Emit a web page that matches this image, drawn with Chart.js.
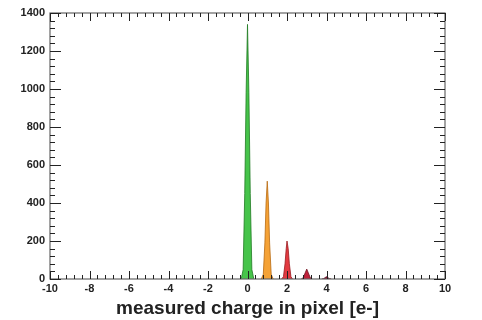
<!DOCTYPE html>
<html>
<head>
<meta charset="utf-8">
<script src="https://cdn.jsdelivr.net/npm/chart.js@4.4.1/dist/chart.umd.min.js"></script>
<style>
  html, body { margin: 0; padding: 0; background: #fff; }
  #wrap { width: 482px; height: 320px; }
</style>
</head>
<body>
<div id="wrap"><canvas id="c"></canvas></div>
<script>
// peak shapes (x in e-, y = entries)
const peak0X = [-0.32, -0.22, -0.14, -0.07, 0, 0.07, 0.14, 0.22, 0.32];
const peak0Y = [0, 50, 450, 980, 1340, 980, 450, 50, 0];
const peak1X = [0.7, 0.8, 0.88, 0.94, 1, 1.06, 1.12, 1.2, 1.3];
const peak1Y = [0, 25, 190, 400, 515, 400, 190, 25, 0];
const peak2X = [1.72, 1.82, 1.9, 1.96, 2, 2.06, 2.12, 2.2, 2.28];
const peak2Y = [0, 12, 80, 160, 200, 160, 80, 12, 0];
const peak3X = [2.72, 2.82, 2.92, 3, 3.08, 3.18, 3.28];
const peak3Y = [0, 6, 32, 52, 32, 6, 0];
const peak4X = [3.76, 3.86, 3.94, 4, 4.06, 4.14, 4.24];
const peak4Y = [0, 2, 8, 12, 8, 2, 0];

const xTicks = [-10, -8, -6, -4, -2, 0, 2, 4, 6, 8, 10];
const yTicks = [0, 200, 400, 600, 800, 1000, 1200, 1400];

function pts(xs, ys) {
    return xs.map((x, i) => ({ x: x, y: ys[i] }));
}

function peakSet(xs, ys, fillCol, lineCol) {
    return {
        data: pts(xs, ys),
        backgroundColor: fillCol,
        borderColor: lineCol,
        borderWidth: 0.8,
        fill: 'origin',
        pointRadius: 0,
        tension: 0
    };
}

// ROOT style frame with inward ticks on all sides
const frameTicks = {
    id: 'frameTicks',
    afterDraw(chart) {
        const ctx = chart.ctx;
        const a = chart.chartArea;
        const xs = chart.scales.x, ys = chart.scales.y;
        ctx.save();
        ctx.strokeStyle = '#666';
        ctx.lineWidth = 1.2;
        ctx.strokeRect(a.left, a.top, a.right - a.left, a.bottom - a.top);
        ctx.strokeStyle = '#222';
        ctx.lineWidth = 1;
        ctx.beginPath();
        for (let v = -10; v <= 10.001; v += 0.4) {
            const px = Math.round(xs.getPixelForValue(v)) + 0.5;
            const major = Math.abs(v / 2 - Math.round(v / 2)) < 0.01;
            const len = major ? 8 : 4;
            ctx.moveTo(px, a.bottom); ctx.lineTo(px, a.bottom - len);
            ctx.moveTo(px, a.top); ctx.lineTo(px, a.top + len);
        }
        for (let v = 0; v <= 1400; v += 40) {
            const py = Math.round(ys.getPixelForValue(v)) + 0.5;
            const major = v % 200 === 0;
            const len = major ? 11 : 5;
            ctx.moveTo(a.left, py); ctx.lineTo(a.left + len, py);
            ctx.moveTo(a.right, py); ctx.lineTo(a.right - len, py);
        }
        ctx.stroke();
        ctx.restore();
    }
};

new Chart(document.getElementById('c'), {
    type: 'line',
    data: {
        datasets: [
            peakSet(peak0X, peak0Y, '#46c44a', '#1f7a22'),
            peakSet(peak1X, peak1Y, '#f5a236', '#b86a10'),
            peakSet(peak2X, peak2Y, '#e23a40', '#9a1a20'),
            peakSet(peak3X, peak3Y, '#c0203a', '#701020'),
            peakSet(peak4X, peak4Y, '#901838', '#500a1a')
        ]
    },
    options: {
        responsive: true,
        maintainAspectRatio: false,
        animation: false,
        layout: { padding: { top: 13, right: 37, left: 0, bottom: 0 } },
        plugins: {
            legend: { display: false },
            tooltip: { enabled: false }
        },
        scales: {
            x: {
                type: 'linear',
                min: -10,
                max: 10,
                afterBuildTicks: s => { s.ticks = xTicks.map(v => ({ value: v })); },
                afterFit: s => { s.height = 41; },
                grid: { display: false, drawTicks: false },
                border: { display: false },
                ticks: {
                    padding: 3,
                    color: '#222',
                    callback: v => String(v),
                    font: { family: 'Liberation Sans', size: 11, weight: 'bold' }
                },
                title: {
                    display: true,
                    text: 'measured charge in pixel [e-]',
                    color: '#222',
                    padding: { top: 0, bottom: 0 },
                    font: { family: 'Liberation Sans', size: 19, weight: 'bold' }
                }
            },
            y: {
                type: 'linear',
                min: 0,
                max: 1400,
                afterBuildTicks: s => { s.ticks = yTicks.map(v => ({ value: v })); },
                afterFit: s => { s.width = 50; },
                grid: { display: false, drawTicks: false },
                border: { display: false },
                ticks: {
                    padding: 5,
                    color: '#222',
                    callback: v => String(v),
                    font: { family: 'Liberation Sans', size: 11, weight: 'bold' }
                }
            }
        }
    },
    plugins: [frameTicks]
});
</script>
</body>
</html>
